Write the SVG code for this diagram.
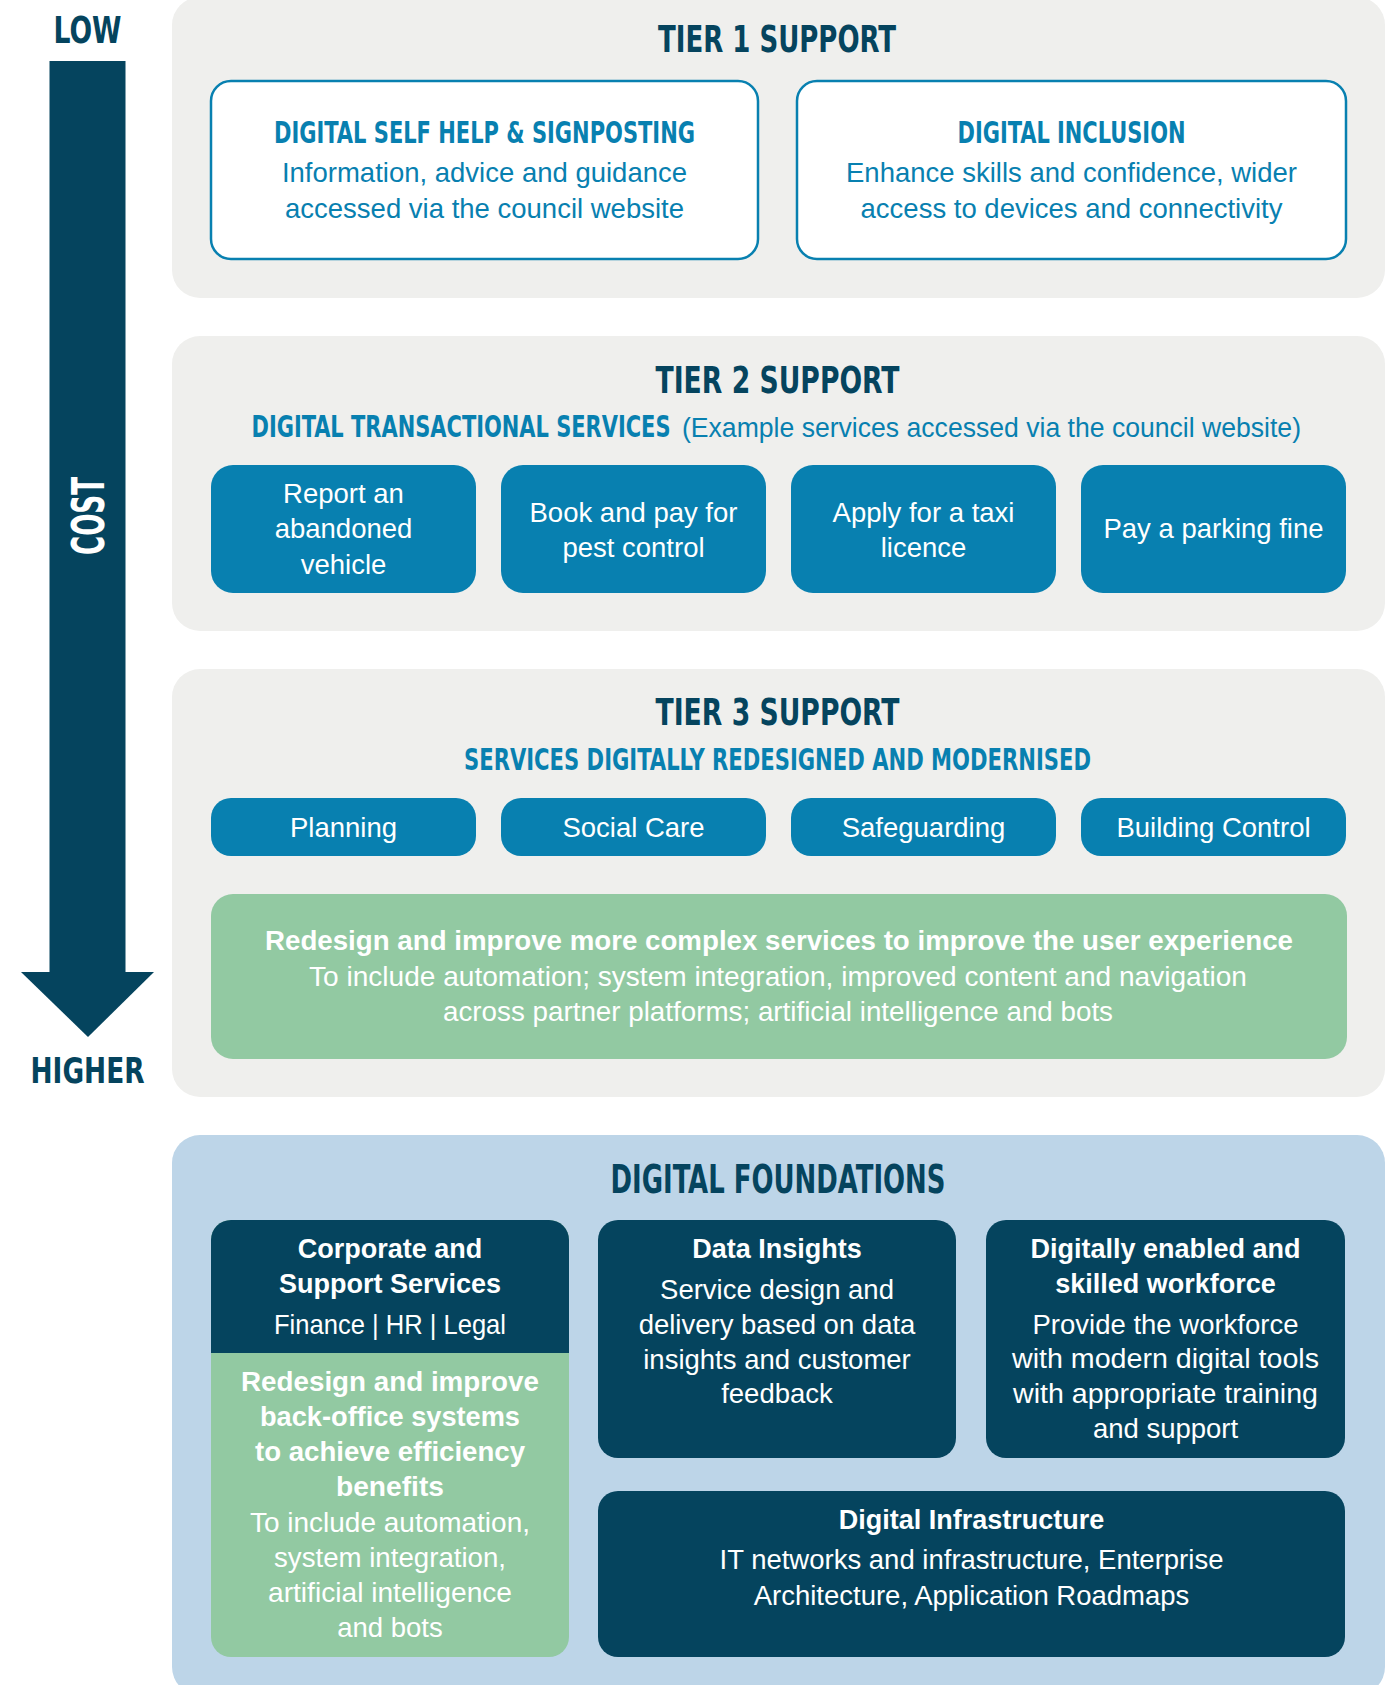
<svg xmlns="http://www.w3.org/2000/svg" width="1397" height="1685" viewBox="0 0 1397 1685">
<style>
.hd{font-family:"Liberation Sans Narrow","DejaVu Sans Condensed","Liberation Sans",sans-serif;font-weight:bold;text-anchor:middle}
.t{font-family:"Liberation Sans",Arial,sans-serif;font-size:27.5px;text-anchor:middle}
.b{font-weight:bold;font-size:27px}
.navy{fill:#05445e}
.blue{fill:#0880b0}
.w{fill:#ffffff}
.panel{fill:#efefed}
.btn{fill:#0880b0}
.green{fill:#92c9a2}
.dark{fill:#05445e}
.outline{fill:#ffffff;stroke:#0880b0;stroke-width:2.5}
</style>
<rect x="0" y="0" width="1397" height="1685" fill="#ffffff"/>

<g id="cost-arrow">
  <text class="hd navy" x="87.5" y="43" font-size="38" textLength="68" lengthAdjust="spacingAndGlyphs">LOW</text>
  <rect class="dark" x="49.5" y="61" width="76" height="912"/>
  <polygon class="dark" points="21,972 154,972 88,1037"/>
  <text class="hd w" transform="translate(88,516) rotate(-90)" x="0" y="16" font-size="44" textLength="78" lengthAdjust="spacingAndGlyphs">COST</text>
  <text class="hd navy" x="87.5" y="1083" font-size="36" textLength="114" lengthAdjust="spacingAndGlyphs">HIGHER</text>
</g>

<g id="tier1">
  <rect class="panel" x="172" y="-3" width="1213" height="301" rx="28"/>
  <text class="hd navy" x="777" y="52" font-size="37.5" textLength="238" lengthAdjust="spacingAndGlyphs">TIER 1 SUPPORT</text>
</g>
<g id="t1-self-help">
  <rect class="outline" x="211" y="81" width="547" height="178" rx="20"/>
  <text class="hd blue" x="484.5" y="143" font-size="30.5" textLength="421" lengthAdjust="spacingAndGlyphs">DIGITAL SELF HELP &amp; SIGNPOSTING</text>
  <text class="t blue" x="484.5" y="182">Information, advice and guidance</text>
  <text class="t blue" x="484.5" y="218">accessed via the council website</text>
</g>
<g id="t1-inclusion">
  <rect class="outline" x="797" y="81" width="549" height="178" rx="20"/>
  <text class="hd blue" x="1071.5" y="143" font-size="30.5" textLength="228" lengthAdjust="spacingAndGlyphs">DIGITAL INCLUSION</text>
  <text class="t blue" x="1071.5" y="182">Enhance skills and confidence, wider</text>
  <text class="t blue" x="1071.5" y="218">access to devices and connectivity</text>
</g>

<g id="tier2">
  <rect class="panel" x="172" y="336" width="1213" height="295" rx="28"/>
  <text class="hd navy" x="777.5" y="393" font-size="37.5" textLength="244" lengthAdjust="spacingAndGlyphs">TIER 2 SUPPORT</text>
  <text class="hd blue" transform="translate(251.5,437) scale(1,1.31)" x="0" y="0" style="text-anchor:start" font-size="23.2" textLength="419" lengthAdjust="spacingAndGlyphs">DIGITAL TRANSACTIONAL SERVICES</text>
  <text class="t blue" x="682" y="437" style="text-anchor:start" textLength="619" lengthAdjust="spacingAndGlyphs">(Example services accessed via the council website)</text>
</g>
<g id="t2-abandoned-vehicle">
  <rect class="btn" x="211" y="465" width="265" height="128" rx="22"/>
  <text class="t w" x="343.5" y="503">Report an</text>
  <text class="t w" x="343.5" y="538">abandoned</text>
  <text class="t w" x="343.5" y="574">vehicle</text>
</g>
<g id="t2-pest-control">
  <rect class="btn" x="501" y="465" width="265" height="128" rx="22"/>
  <text class="t w" x="633.5" y="522">Book and pay for</text>
  <text class="t w" x="633.5" y="557">pest control</text>
</g>
<g id="t2-taxi-licence">
  <rect class="btn" x="791" y="465" width="265" height="128" rx="22"/>
  <text class="t w" x="923.5" y="522">Apply for a taxi</text>
  <text class="t w" x="923.5" y="557">licence</text>
</g>
<g id="t2-parking-fine">
  <rect class="btn" x="1081" y="465" width="265" height="128" rx="22"/>
  <text class="t w" x="1213.5" y="538">Pay a parking fine</text>
</g>

<g id="tier3">
  <rect class="panel" x="172" y="669" width="1213" height="428" rx="28"/>
  <text class="hd navy" x="777.5" y="725" font-size="37.5" textLength="244" lengthAdjust="spacingAndGlyphs">TIER 3 SUPPORT</text>
  <text class="hd blue" x="777.5" y="770" font-size="30.5" textLength="627" lengthAdjust="spacingAndGlyphs">SERVICES DIGITALLY REDESIGNED AND MODERNISED</text>
</g>
<g id="t3-planning">
  <rect class="btn" x="211" y="798" width="265" height="58" rx="20"/>
  <text class="t w" x="343.5" y="837">Planning</text>
</g>
<g id="t3-social-care">
  <rect class="btn" x="501" y="798" width="265" height="58" rx="20"/>
  <text class="t w" x="633.5" y="837">Social Care</text>
</g>
<g id="t3-safeguarding">
  <rect class="btn" x="791" y="798" width="265" height="58" rx="20"/>
  <text class="t w" x="923.5" y="837">Safeguarding</text>
</g>
<g id="t3-building-control">
  <rect class="btn" x="1081" y="798" width="265" height="58" rx="20"/>
  <text class="t w" x="1213.5" y="837">Building Control</text>
</g>
<g id="t3-redesign">
  <rect class="green" x="211" y="894" width="1136" height="165" rx="22"/>
  <text class="t b w" x="779" y="950" textLength="1028" lengthAdjust="spacingAndGlyphs">Redesign and improve more complex services to improve the user experience</text>
  <text class="t w" x="778" y="986" textLength="938" lengthAdjust="spacingAndGlyphs">To include automation; system integration, improved content and navigation</text>
  <text class="t w" x="778" y="1021" textLength="670" lengthAdjust="spacingAndGlyphs">across partner platforms; artificial intelligence and bots</text>
</g>

<g id="foundations">
  <rect x="172" y="1135" width="1213" height="560" rx="28" fill="#bdd5e8"/>
  <text class="hd navy" x="778" y="1193" font-size="39" textLength="335" lengthAdjust="spacingAndGlyphs">DIGITAL FOUNDATIONS</text>
</g>
<g id="f-corporate">
  <rect class="green" x="211" y="1220" width="358" height="437" rx="20"/>
  <path class="dark" d="M211,1353 V1240 A20,20 0 0 1 231,1220 H549 A20,20 0 0 1 569,1240 V1353 Z"/>
  <text class="t b w" x="390" y="1258">Corporate and</text>
  <text class="t b w" x="390" y="1293">Support Services</text>
  <text class="t w" x="390" y="1334" textLength="232" lengthAdjust="spacingAndGlyphs">Finance | HR | Legal</text>
  <text class="t b w" x="390" y="1391" textLength="298" lengthAdjust="spacingAndGlyphs">Redesign and improve</text>
  <text class="t b w" x="390" y="1426" textLength="260" lengthAdjust="spacingAndGlyphs">back-office systems</text>
  <text class="t b w" x="390" y="1461" textLength="270" lengthAdjust="spacingAndGlyphs">to achieve efficiency</text>
  <text class="t b w" x="390" y="1496" textLength="108" lengthAdjust="spacingAndGlyphs">benefits</text>
  <text class="t w" x="390" y="1532" textLength="280" lengthAdjust="spacingAndGlyphs">To include automation,</text>
  <text class="t w" x="390" y="1567" textLength="232" lengthAdjust="spacingAndGlyphs">system integration,</text>
  <text class="t w" x="390" y="1602" textLength="244" lengthAdjust="spacingAndGlyphs">artificial intelligence</text>
  <text class="t w" x="390" y="1637">and bots</text>
</g>
<g id="f-data-insights">
  <rect class="dark" x="598" y="1220" width="358" height="238" rx="20"/>
  <text class="t b w" x="777" y="1258">Data Insights</text>
  <text class="t w" x="777" y="1299">Service design and</text>
  <text class="t w" x="777" y="1334">delivery based on data</text>
  <text class="t w" x="777" y="1369">insights and customer</text>
  <text class="t w" x="777" y="1403">feedback</text>
</g>
<g id="f-workforce">
  <rect class="dark" x="986" y="1220" width="359" height="238" rx="20"/>
  <text class="t b w" x="1165.5" y="1258">Digitally enabled and</text>
  <text class="t b w" x="1165.5" y="1293">skilled workforce</text>
  <text class="t w" x="1165.5" y="1334">Provide the workforce</text>
  <text class="t w" x="1165.5" y="1368" textLength="307" lengthAdjust="spacingAndGlyphs">with modern digital tools</text>
  <text class="t w" x="1165.5" y="1403" textLength="305" lengthAdjust="spacingAndGlyphs">with appropriate training</text>
  <text class="t w" x="1165.5" y="1438">and support</text>
</g>
<g id="f-infrastructure">
  <rect class="dark" x="598" y="1491" width="747" height="166" rx="20"/>
  <text class="t b w" x="971.5" y="1529">Digital Infrastructure</text>
  <text class="t w" x="971.5" y="1569">IT networks and infrastructure, Enterprise</text>
  <text class="t w" x="971.5" y="1605">Architecture, Application Roadmaps</text>
</g>
<g id="connectors"></g>
</svg>
